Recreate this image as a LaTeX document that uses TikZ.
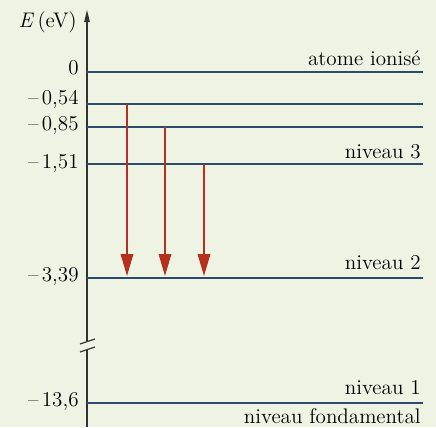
\documentclass[tikz,border=0pt]{standalone}
\usetikzlibrary{positioning, arrows.meta}
\definecolor{fond}{HTML}{EEF3E3}
\definecolor{niv}{HTML}{2C4B6C}
\definecolor{emisred}{HTML}{B5301E}
\tikzset{
  level/.style={niv, line width=1.3pt},
  axe/.style={line width=0.7pt, black!80},
  val/.style={
    anchor=east, inner sep=0pt,
    font=\fontsize{12}{14}\selectfont
  },
  nom/.style={
    anchor=base east, inner sep=0pt,
    font=\fontsize{12}{14}\selectfont
  },
  emis/.style={-{Triangle[length=0.44cm, width=0.25cm]}, emisred, line width=1pt},
}

\begin{document}
\begin{tikzpicture}[x=0.02cm, y=-0.02cm]
    \path[use as bounding box, fill=fond] (0,0) rectangle (436,427);
    % axe des energies
    \coordinate (axbas)  at (87,427);
    \coordinate (axcut1) at (87,350);
    \coordinate (axcut2) at (87,341);
    \coordinate (axhaut) at (87,10);
    \draw[axe] (axbas) -- (axcut1);
    \draw[axe, -{Triangle[length=0.24cm, width=0.11cm]}] (axcut2) -- (axhaut);
    \draw[axe] (80,352) -- (95,347);
    \draw[axe] (80,344) -- (95,339);
    \node[val] (E) at (77,22) {\textit{E}\,(eV)};
    % niveaux
    \coordinate (n0g)  at (87,72);  \coordinate (n0d)  at (423,72);
    \coordinate (n5g)  at (87,104); \coordinate (n5d)  at (423,104);
    \coordinate (n4g)  at (87,127); \coordinate (n4d)  at (423,127);
    \coordinate (n3g)  at (87,164); \coordinate (n3d)  at (423,164);
    \coordinate (n2g)  at (87,278); \coordinate (n2d)  at (423,278);
    \coordinate (n1g)  at (87,403); \coordinate (n1d)  at (423,403);
    \draw[level] (n0g) -- (n0d);
    \draw[level] (n5g) -- (n5d);
    \draw[level] (n4g) -- (n4d);
    \draw[level] (n3g) -- (n3d);
    \draw[level] (n2g) -- (n2d);
    \draw[level] (n1g) -- (n1d);
    % valeurs
    \node[val] (v0) at (79,68)  {0};
    \node[val] (v5) at (79,99)  {--\,0,54};
    \node[val] (v4) at (79,126) {--\,0,85};
    \node[val] (v3) at (79,164) {--\,1,51};
    \node[val] (v2) at (79,277) {--\,3,39};
    \node[val] (v1) at (79,402) {--\,13,6};
    % noms
    \node[nom] (ion)  at (421,65)  {atome ionisé};
    \node[nom] (niv3) at (421,158) {niveau 3};
    \node[nom] (niv2) at (421,269) {niveau 2};
    \node[nom] (niv1) at (421,394) {niveau 1};
    \node[nom] (fond) at (421,423) {niveau fondamental};
    % transitions
    \coordinate (t5h) at (127,104); \coordinate (t5b) at (127,276);
    \coordinate (t4h) at (165,127); \coordinate (t4b) at (165,276);
    \coordinate (t3h) at (204,164); \coordinate (t3b) at (204,276);
    \draw[emis] (t5h) -- (t5b);
    \draw[emis] (t4h) -- (t4b);
    \draw[emis] (t3h) -- (t3b);
\end{tikzpicture}
\end{document}
